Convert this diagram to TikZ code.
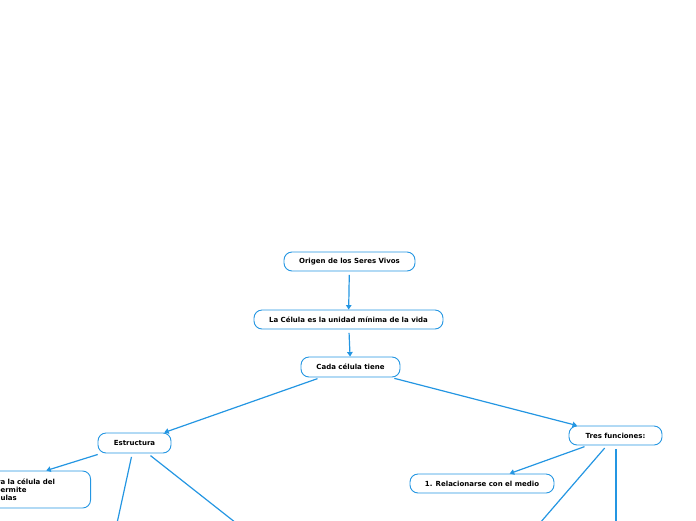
\documentclass[tikz,border=0pt]{standalone}
\usepackage{fontspec}
\setmainfont{DejaVu Sans}
\usetikzlibrary{arrows.meta}
\definecolor{mmblau}{RGB}{36,150,226}
% Textanfang, der links aus dem Bild ragt
\newcommand{\verdeckt}[1]{\makebox[106pt][r]{#1}}

\begin{document}
\begin{tikzpicture}[
            x=1pt, y=-1pt,
            % Knoten wie in der Mindmap: abgerundet, blauer Rand
            idea/.style={draw=mmblau, fill=white, rounded corners=8pt, line width=0.9pt,
                minimum height=19pt, inner xsep=0pt, font=\fontsize{7}{8}\selectfont\bfseries},
            % Verbindungen laufen von Mittelpunkt zu Mittelpunkt
            link/.style={draw=mmblau, line width=1.2pt, -{Triangle[length=4.5pt,width=5.5pt]},
                shorten <=3.5pt}
        ]
        \useasboundingbox (0,0) rectangle (696,520);
        \clip (0,0) rectangle (696,520);

        \node[idea, minimum width=131pt] (origen) at (349.5,261.5) {Origen de los Seres Vivos};
        \node[idea, minimum width=189pt] (celula) at (348.5,319.5) {La Célula es la unidad mínima de la vida};
        \node[idea, minimum width=99pt, minimum height=20pt] (cada) at (350.5,367) {Cada célula tiene};
        \node[idea, minimum width=73pt, minimum height=20pt] (estructura) at (134.5,443) {Estructura};
        \node[idea, minimum width=93pt] (tres) at (615.5,435.5) {Tres funciones:};
        \node[idea, minimum width=144pt] (relacion) at (482,483.5) {1. Relacionarse con el medio};
        % Teil des Knotens liegt links ausserhalb des Bildes
        \node[idea, anchor=east, align=left, text width=182pt, inner xsep=14pt, minimum height=37pt]
            (membrana) at (91,489.5)
            {\verdeckt{Membrana celular: separ}a la célula del\\
             \verdeckt{medio que la rodea y le p}ermite\\
             \verdeckt{comunicarse con otras cél}ulas};

        % Enden ausserhalb des Bildes
        \coordinate (nucleo) at (109,560);
        \coordinate (citoplasma) at (283,560);
        \coordinate (nutrirse) at (508,560);
        \coordinate (reproducirse) at (616,560);

        \draw[link] (origen) -- (celula);
        \draw[link] (celula) -- (cada);
        \draw[link] (cada) -- (estructura);
        \draw[link] (cada) -- (tres);
        \draw[link] (estructura) -- (membrana);
        \draw[link] (estructura) -- (nucleo);
        \draw[link] (estructura) -- (citoplasma);
        \draw[link] (tres) -- (relacion);
        \draw[link] (tres) -- (nutrirse);
        \draw[link] (tres.south -| reproducirse) -- (reproducirse);
    \end{tikzpicture}
\end{document}
